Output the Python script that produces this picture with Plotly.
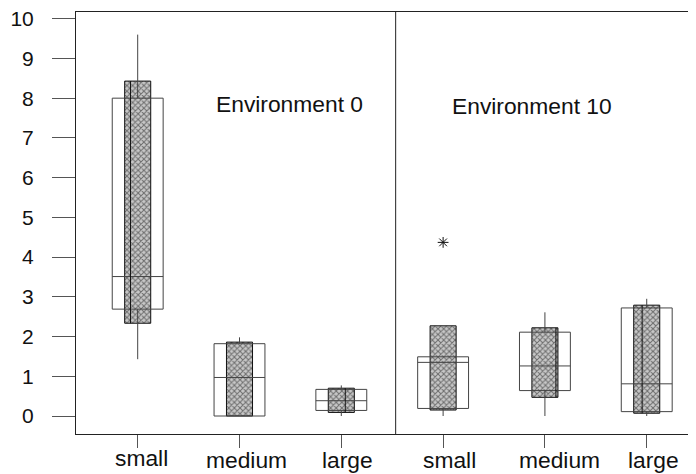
import plotly.graph_objects as go

# ---- data ----
environments = ["Environment 0", "Environment 10"]
size_labels = ["small", "medium", "large", "small", "medium", "large"]
positions = [1, 2, 3, 4, 5, 6]

# wide open boxes
white_q1 = [2.69, 0.00, 0.14, 0.19, 0.64, 0.11]
white_median = [3.51, 0.97, 0.385, 1.35, 1.26, 0.81]
white_q3 = [8.00, 1.82, 0.67, 1.49, 2.11, 2.72]
whisker_low = [1.43, 0.00, 0.00, 0.00, 0.00, 0.00]
whisker_high = [9.60, 1.98, 0.77, 1.49, 2.61, 2.95]

# narrow hatched boxes
hatch_q1 = [2.335, 0.00, 0.09, 0.15, 0.47, 0.07]
hatch_q3 = [8.43, 1.86, 0.70, 2.27, 2.22, 2.79]
# inner vertical divider inside hatched boxes (offset from centre, None = no line)
hatch_divider = [-0.071, None, 0.039, None, 0.108, -0.045]

# outlier
outlier_x = [4]
outlier_y = [4.37]

y_ticks = list(range(0, 11))

FONT = "Liberation Sans, Arial, sans-serif"

fig = go.Figure()

# hatched boxes as floating bars
fig.add_trace(go.Bar(
    x=positions,
    y=[h - l for h, l in zip(hatch_q3, hatch_q1)],
    base=hatch_q1,
    width=0.256,
    marker=dict(
        color="#b0b0b0",
        line=dict(color="#111111", width=1),
        pattern=dict(shape="x", fgcolor="#111111", bgcolor="#c8c8c8",
                     size=4, solidity=0.45),
    ),
    showlegend=False,
    hoverinfo="skip",
))

# open boxes with whiskers
fig.add_trace(go.Box(
    x=positions,
    q1=white_q1,
    median=white_median,
    q3=white_q3,
    lowerfence=whisker_low,
    upperfence=whisker_high,
    width=0.5,
    whiskerwidth=0,
    boxpoints=False,
    fillcolor="rgba(0,0,0,0)",
    line=dict(color="#444444", width=1),
    showlegend=False,
))

# inner dividers of hatched boxes
dx, dy = [], []
for p, off, lo, hi in zip(positions, hatch_divider, hatch_q1, hatch_q3):
    if off is None:
        continue
    dx += [p + off, p + off, None]
    dy += [lo, hi, None]
fig.add_trace(go.Scatter(x=dx, y=dy, mode="lines",
                         line=dict(color="#111111", width=1),
                         showlegend=False, hoverinfo="skip"))

# outlier
fig.add_trace(go.Scatter(x=outlier_x, y=outlier_y, mode="markers",
                         marker=dict(symbol="asterisk-open", size=9,
                                     color="#111111",
                                     line=dict(color="#111111", width=1)),
                         showlegend=False))

# panel divider
fig.add_shape(type="line", xref="x", yref="paper", x0=3.534, x1=3.534,
              y0=0, y1=1, line=dict(color="#222222", width=1))

# panel titles
fig.add_annotation(x=2.491, y=7.86, text=environments[0], showarrow=False,
                   xanchor="center", yanchor="middle",
                   font=dict(family=FONT, size=22.8, color="#111111"))
fig.add_annotation(x=4.875, y=7.80, text=environments[1], showarrow=False,
                   xanchor="center", yanchor="middle",
                   font=dict(family=FONT, size=22.8, color="#111111"))

# category labels below the axis
label_xshift = [4.3, 7, 5.7, 6.7, 15, 6.3]
label_yshift = [-24.3, -26.0, -25.6, -26.3, -26.0, -26.0]
for p, lab, xs, ys in zip(positions, size_labels, label_xshift, label_yshift):
    fig.add_annotation(x=p, xref="x", y=0, yref="paper", text=lab,
                       showarrow=False, xanchor="center", yanchor="middle",
                       xshift=xs, yshift=ys,
                       font=dict(family=FONT, size=22.8, color="#111111"))

# the page body adds an 8px margin, so the figure is sized to fit the window
fig.update_layout(
    width=688, height=466,
    margin=dict(l=68, r=0, t=4, b=40),
    plot_bgcolor="white", paper_bgcolor="white",
    barmode="overlay", boxmode="overlay",
    showlegend=False,
    font=dict(family=FONT, color="#111111"),
)
fig.update_xaxes(
    range=[0.394, 6.484], tickvals=positions, showticklabels=False,
    ticks="outside", ticklen=13, tickcolor="#555555", tickwidth=1,
    showline=True, linecolor="#222222", linewidth=1, mirror=True,
    showgrid=False, zeroline=False,
)
fig.update_yaxes(
    range=[-0.453, 10.169], tickvals=y_ticks,
    ticks="outside", ticklen=23, tickcolor="#555555", tickwidth=1,
    ticklabelstandoff=14, ticklabeloverflow="allow",
    tickfont=dict(family=FONT, size=21, color="#111111"),
    showline=True, linecolor="#222222", linewidth=1, mirror=False,
    showgrid=False, zeroline=False,
)

fig.write_html("out.html")
